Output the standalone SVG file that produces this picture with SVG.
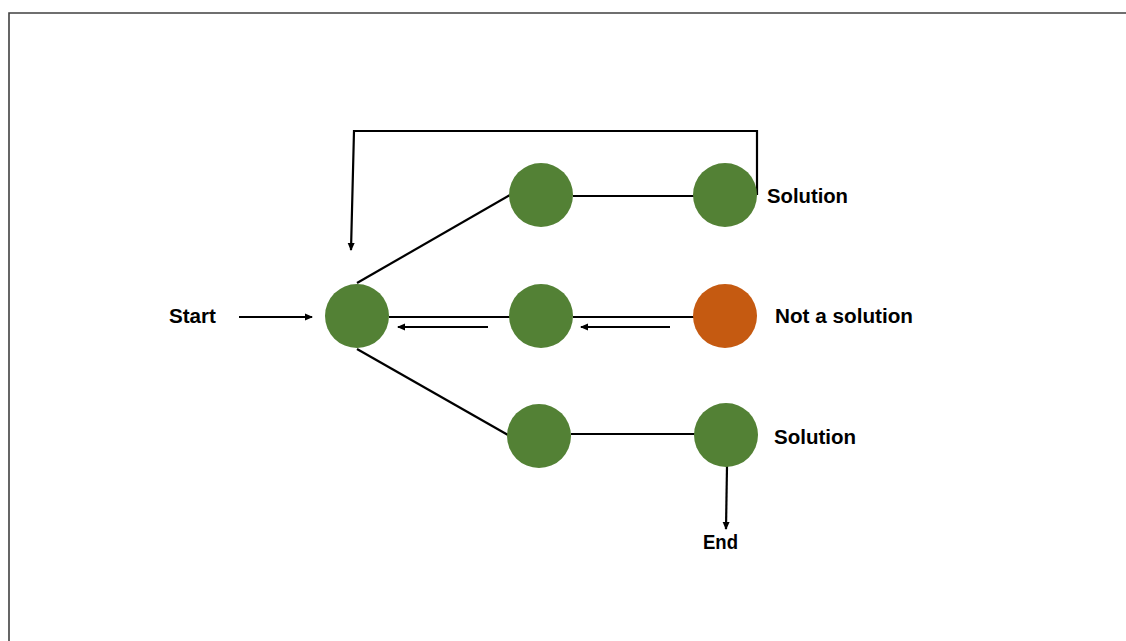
<svg xmlns="http://www.w3.org/2000/svg" width="1126" height="641" viewBox="0 0 1126 641">
<defs>
<marker id="arr" markerWidth="8" markerHeight="8" refX="7" refY="4" orient="auto" markerUnits="userSpaceOnUse">
<path d="M0,0.5 L8,4 L0,7.5 Z" fill="#000"/>
</marker>
<style>
.node{fill:#538135}
.bad{fill:#C55A11}
.ln{stroke:#000;stroke-width:2.2;fill:none}
.lbl{font-family:"Liberation Sans",Arial,sans-serif;font-weight:bold;font-size:19.5px;fill:#000}
</style>
</defs>
<rect x="0" y="0" width="1126" height="641" fill="#fff"/>
<path d="M9,645 L9,13 L1130,13" fill="none" stroke="#404040" stroke-width="1.6"/>
<g id="connectors">
<line class="ln" x1="357" y1="283" x2="510" y2="195"/>
<line class="ln" x1="573" y1="196" x2="694" y2="196"/>
<path class="ln" d="M757,195 L757,131 L354,131 L351,250" marker-end="url(#arr)"/>
<line class="ln" x1="239" y1="317" x2="312" y2="317" marker-end="url(#arr)"/>
<line class="ln" x1="389" y1="317" x2="510" y2="317"/>
<line class="ln" x1="488" y1="327" x2="398" y2="327" marker-end="url(#arr)"/>
<line class="ln" x1="573" y1="317" x2="694" y2="317"/>
<line class="ln" x1="670" y1="327" x2="581" y2="327" marker-end="url(#arr)"/>
<line class="ln" x1="357" y1="349" x2="508" y2="435"/>
<line class="ln" x1="571" y1="434" x2="695" y2="434"/>
<line class="ln" x1="727" y1="466" x2="726" y2="529" marker-end="url(#arr)"/>
</g>
<g id="root"><circle class="node" cx="357" cy="316" r="32"/></g>
<g id="top-mid"><circle class="node" cx="541" cy="195" r="32"/></g>
<g id="top-right"><circle class="node" cx="725" cy="195" r="32"/></g>
<g id="mid-mid"><circle class="node" cx="541" cy="316" r="32"/></g>
<g id="mid-right"><circle class="bad" cx="725" cy="316" r="32"/></g>
<g id="bot-mid"><circle class="node" cx="539" cy="436" r="32"/></g>
<g id="bot-right"><circle class="node" cx="726" cy="435" r="32"/></g>
<g id="labels">
<text class="lbl" x="169" y="323" textLength="47" lengthAdjust="spacingAndGlyphs">Start</text>
<text class="lbl" x="767" y="203" textLength="81" lengthAdjust="spacingAndGlyphs">Solution</text>
<text class="lbl" x="775" y="323" textLength="138" lengthAdjust="spacingAndGlyphs">Not a solution</text>
<text class="lbl" x="774" y="444" textLength="82" lengthAdjust="spacingAndGlyphs">Solution</text>
<text class="lbl" x="703" y="549" textLength="35" lengthAdjust="spacingAndGlyphs">End</text>
</g>
</svg>
